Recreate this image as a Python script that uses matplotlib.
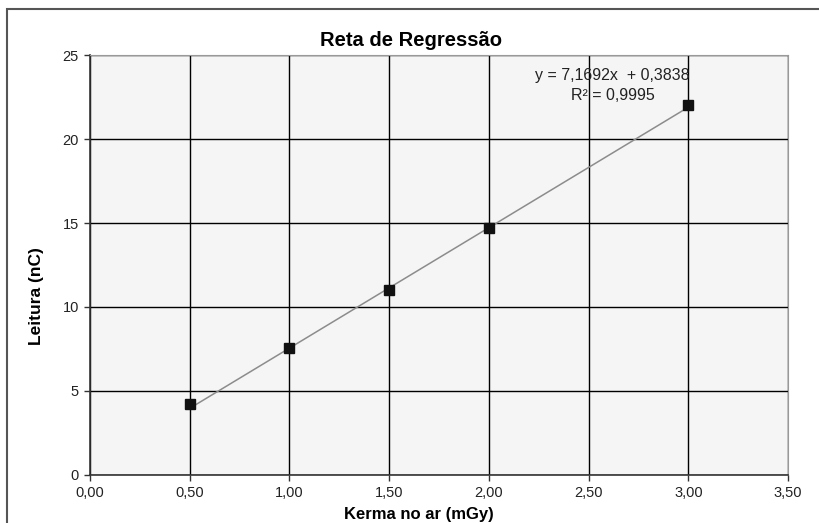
import matplotlib.pyplot as plt
from matplotlib.patches import Rectangle
from matplotlib.ticker import FuncFormatter

plt.rcParams['font.family'] = ['Liberation Sans', 'DejaVu Sans']

# dados
kerma = [0.5, 1.0, 1.5, 2.0, 3.0]
leitura = [4.2, 7.55, 11.0, 14.7, 22.05]

# reta de regressao (do rotulo)
slope = 7.1692
intercept = 0.3838
r2 = 0.9995

fig = plt.figure(figsize=(8.19, 5.23), dpi=100)
fig.patch.set_facecolor('white')

# borda da area do grafico
fig.patches.append(Rectangle((7 / 819, -0.2), 1.2, 1.2 - 9 / 523,
                             transform=fig.transFigure, fill=False,
                             edgecolor='#555555', linewidth=1.5))

ax = fig.add_axes([90 / 819, 48 / 523, 698 / 819, 420 / 523])
ax.set_facecolor('#f5f5f5')

ax.set_xlim(0, 3.5)
ax.set_ylim(0, 25)
ax.set_xticks([0, 0.5, 1.0, 1.5, 2.0, 2.5, 3.0, 3.5])
ax.set_yticks([0, 5, 10, 15, 20, 25])
ax.xaxis.set_major_formatter(FuncFormatter(lambda v, p: f"{v:.2f}".replace('.', ',')))
ax.grid(True, color='black', linewidth=1)
ax.set_axisbelow(True)

ax.tick_params(direction='out', length=4, width=1, color='#333333',
               labelsize=10.5, labelcolor='#222222', pad=4)

for s in ['top', 'right']:
    ax.spines[s].set_color('#999999')
for s in ['left', 'bottom']:
    ax.spines[s].set_color('#333333')
    ax.spines[s].set_linewidth(1.2)

# linha de tendencia
x0, x1 = min(kerma), max(kerma)
ax.plot([x0, x1], [slope * x0 + intercept, slope * x1 + intercept],
        color='#8c8c8c', linewidth=1.1, zorder=3)
ax.plot(kerma, leitura, 's', color='#111111', markersize=7, zorder=4)

ax.text(2.62, 23.8, "y = 7,1692x  + 0,3838", ha='center', va='center',
        fontsize=11.5, color='#222222')
ax.text(2.62, 22.6, "R² = 0,9995", ha='center', va='center',
        fontsize=11.5, color='#222222')

fig.text(411 / 819, 1 - 40 / 523, "Reta de Regressão", ha='center', va='center',
         fontsize=14.5, fontweight='bold')
fig.text(419 / 819, 1 - 514 / 523, "Kerma no ar (mGy)", ha='center', va='center',
         fontsize=12, fontweight='bold')
fig.text(37 / 819, 1 - 296 / 523, "Leitura (nC)", ha='center', va='center',
         rotation=90, fontsize=12.5, fontweight='bold')

fig.savefig("out.png", dpi=100)
